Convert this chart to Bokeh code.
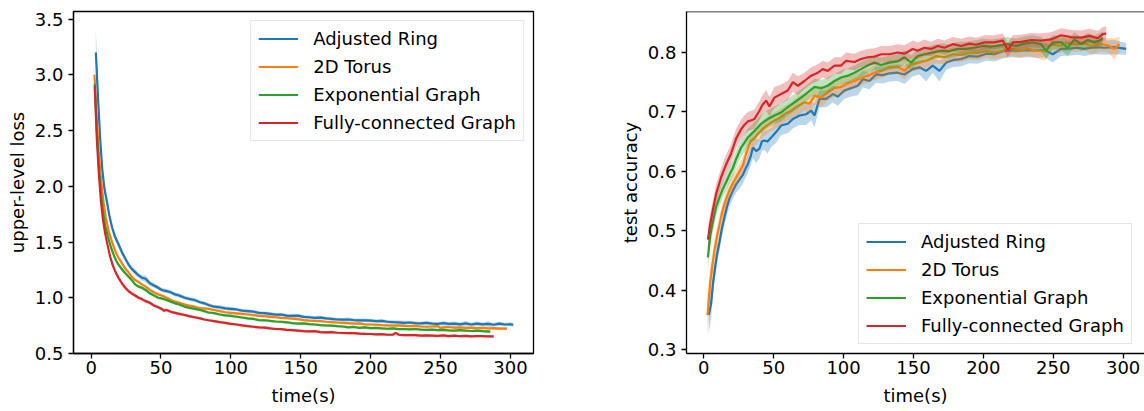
import numpy as np
from bokeh.plotting import figure
from bokeh.layouts import row
from bokeh.models import FixedTicker, Span, Range1d, PrintfTickFormatter
from bokeh.embed import file_html
from bokeh.resources import INLINE

names = ["Adjusted Ring", "2D Torus", "Exponential Graph", "Fully-connected Graph"]
colors = ["#1f77b4", "#ff7f0e", "#2ca02c", "#d62728"]
x_ticks = [0, 50, 100, 150, 200, 250, 300]
loss_ticks = [0.5, 1.0, 1.5, 2.0, 2.5, 3.0, 3.5]
acc_ticks = [0.3, 0.4, 0.5, 0.6, 0.7, 0.8]

# ---------------- upper-level loss ----------------
loss_t_ring = [3.4, 5, 6.5, 8, 9.5, 11.2, 13, 15, 17, 19.6,
               22, 24.5, 26.7, 29, 31.5, 34, 36.3, 39, 42, 45,
               48, 50.6, 54, 57, 60, 63, 67, 70, 74, 78,
               81, 84, 88, 92, 96, 100, 104, 108, 112, 116,
               120, 124, 128, 132, 136, 140, 144, 148, 152, 156,
               160, 164, 168, 172, 176, 180, 184, 188, 192, 196,
               200, 204, 208, 212, 216, 220, 224, 228, 232, 236,
               240, 244, 248, 252, 256, 260, 264, 268, 272, 276,
               280, 284, 288, 292, 296, 300, 302]
loss_ring = [3.20, 2.78, 2.42, 2.15, 1.98, 1.87, 1.74, 1.63, 1.55, 1.48,
             1.41, 1.35, 1.30, 1.26, 1.23, 1.20, 1.18, 1.17, 1.13, 1.11,
             1.09, 1.07, 1.06, 1.05, 1.03, 1.02, 1.00, 0.99, 0.98, 0.96,
             0.95, 0.935, 0.92, 0.915, 0.905, 0.90, 0.895, 0.885, 0.88, 0.875,
             0.865, 0.862, 0.855, 0.848, 0.85, 0.84, 0.838, 0.84, 0.828, 0.825,
             0.82, 0.822, 0.815, 0.81, 0.805, 0.803, 0.805, 0.80, 0.797, 0.798,
             0.795, 0.79, 0.792, 0.785, 0.782, 0.78, 0.775, 0.778, 0.772, 0.77,
             0.775, 0.768, 0.765, 0.772, 0.765, 0.768, 0.762, 0.77, 0.76, 0.768,
             0.762, 0.765, 0.758, 0.768, 0.76, 0.762, 0.758]
loss_band_ring = [0.20, 0.12, 0.08, 0.06, 0.05, 0.04, 0.035, 0.03, 0.03, 0.03,
                  0.028, 0.025, 0.025, 0.025, 0.025, 0.022, 0.025, 0.03, 0.022, 0.02,
                  0.02, 0.018, 0.02, 0.018, 0.018, 0.02, 0.018, 0.016, 0.018, 0.016,
                  0.016, 0.018, 0.016, 0.02, 0.016, 0.018, 0.016, 0.015, 0.018, 0.015,
                  0.016, 0.015, 0.018, 0.015, 0.016, 0.015, 0.018, 0.016, 0.015, 0.016,
                  0.015, 0.018, 0.015, 0.016, 0.015, 0.016, 0.018, 0.015, 0.016, 0.015,
                  0.016, 0.015, 0.018, 0.015, 0.016, 0.015, 0.018, 0.015, 0.016, 0.015,
                  0.018, 0.016, 0.015, 0.02, 0.016, 0.018, 0.015, 0.022, 0.016, 0.02,
                  0.016, 0.025, 0.016, 0.02, 0.016, 0.018, 0.016]

loss_t_torus = [2.4, 4, 5.5, 7, 8.8, 10.5, 12.5, 15, 17.2, 19.5,
                22, 24.5, 26.7, 29, 31.5, 34, 36.3, 39, 42, 45,
                48, 50.6, 54, 57, 60, 63, 67, 70, 74, 78,
                81, 84, 88, 92, 96, 100, 104, 108, 112, 116,
                120, 124, 128, 132, 136, 140, 144, 148, 152, 156,
                160, 164, 168, 172, 176, 180, 184, 188, 192, 196,
                200, 204, 208, 212, 216, 220, 224, 228, 232, 236,
                240, 244, 248, 250, 252, 256, 260, 264, 268, 272,
                276, 280, 284, 288, 292, 297.5]
loss_torus = [3.00, 2.62, 2.30, 2.07, 1.87, 1.72, 1.60, 1.50, 1.42, 1.36,
              1.31, 1.26, 1.23, 1.19, 1.16, 1.14, 1.12, 1.10, 1.07, 1.05,
              1.03, 1.02, 1.00, 0.98, 0.965, 0.955, 0.94, 0.93, 0.92, 0.905,
              0.905, 0.90, 0.89, 0.88, 0.87, 0.865, 0.86, 0.855, 0.85, 0.845,
              0.838, 0.835, 0.828, 0.825, 0.82, 0.818, 0.812, 0.808, 0.80, 0.795,
              0.792, 0.79, 0.785, 0.782, 0.778, 0.775, 0.772, 0.768, 0.77, 0.762,
              0.76, 0.758, 0.755, 0.753, 0.75, 0.752, 0.748, 0.745, 0.747, 0.742,
              0.74, 0.742, 0.745, 0.728, 0.735, 0.738, 0.732, 0.735, 0.73, 0.732,
              0.728, 0.73, 0.726, 0.728, 0.724, 0.724]
loss_band_torus = [0.10, 0.07, 0.05, 0.04, 0.035, 0.03, 0.028, 0.025, 0.022, 0.02,
                   0.02, 0.018, 0.018, 0.016, 0.016, 0.015, 0.015, 0.015, 0.014, 0.014,
                   0.014, 0.014, 0.013, 0.013, 0.013, 0.013, 0.012, 0.012, 0.012, 0.012,
                   0.012, 0.012, 0.012, 0.012, 0.012, 0.012, 0.012, 0.012, 0.012, 0.012,
                   0.012, 0.012, 0.012, 0.012, 0.012, 0.012, 0.012, 0.012, 0.012, 0.012,
                   0.012, 0.012, 0.012, 0.012, 0.012, 0.012, 0.012, 0.012, 0.012, 0.012,
                   0.012, 0.012, 0.012, 0.012, 0.012, 0.012, 0.012, 0.012, 0.012, 0.012,
                   0.012, 0.012, 0.014, 0.014, 0.012, 0.012, 0.012, 0.012, 0.012, 0.012,
                   0.012, 0.012, 0.012, 0.012, 0.014, 0.014]

loss_t_exp = [2.6, 4, 5.5, 7, 8.5, 10, 12, 14, 16, 18,
              20, 23, 26.7, 29, 31.5, 34, 36.3, 39, 42, 45,
              48, 50.6, 54, 57, 60, 63, 67, 70, 74, 78,
              81, 84, 88, 92, 96, 100, 104, 108, 112, 116,
              120, 124, 128, 132, 136, 140, 144, 148, 152, 156,
              160, 164, 168, 172, 176, 180, 184, 188, 192, 196,
              200, 204, 208, 212, 216, 220, 224, 228, 232, 236,
              240, 244, 248, 252, 256, 260, 264, 268, 272, 276,
              280, 285.6]
loss_exp = [2.92, 2.52, 2.18, 1.95, 1.78, 1.65, 1.55, 1.46, 1.39, 1.33,
            1.29, 1.24, 1.19, 1.16, 1.12, 1.10, 1.09, 1.07, 1.04, 1.02,
            1.00, 0.994, 0.98, 0.965, 0.95, 0.94, 0.92, 0.91, 0.90, 0.89,
            0.88, 0.868, 0.862, 0.85, 0.842, 0.838, 0.83, 0.823, 0.815, 0.81,
            0.80, 0.798, 0.792, 0.787, 0.785, 0.78, 0.772, 0.768, 0.77, 0.764,
            0.76, 0.755, 0.752, 0.75, 0.745, 0.742, 0.735, 0.738, 0.73, 0.735,
            0.728, 0.73, 0.725, 0.722, 0.725, 0.718, 0.72, 0.717, 0.72, 0.715,
            0.712, 0.715, 0.71, 0.712, 0.708, 0.705, 0.71, 0.705, 0.702, 0.706,
            0.70, 0.697]
loss_band_exp = [0.08, 0.06, 0.045, 0.035, 0.03, 0.028, 0.025, 0.022, 0.02, 0.02,
                 0.018, 0.018, 0.016, 0.016, 0.016, 0.015, 0.015, 0.015, 0.014, 0.014,
                 0.014, 0.013, 0.013, 0.013, 0.012, 0.012, 0.012, 0.012, 0.012, 0.012,
                 0.012, 0.012, 0.012, 0.012, 0.012, 0.012, 0.012, 0.012, 0.012, 0.012,
                 0.012, 0.012, 0.012, 0.012, 0.012, 0.012, 0.012, 0.012, 0.012, 0.012,
                 0.012, 0.012, 0.012, 0.012, 0.012, 0.012, 0.012, 0.012, 0.012, 0.012,
                 0.012, 0.012, 0.012, 0.012, 0.012, 0.012, 0.012, 0.012, 0.012, 0.012,
                 0.012, 0.012, 0.012, 0.012, 0.012, 0.012, 0.012, 0.012, 0.012, 0.012,
                 0.012, 0.012]

loss_t_full = [2.6, 4, 5.5, 7, 8.5, 10, 11.8, 13.6, 15.5, 17.5,
               19.6, 22, 24.5, 26.7, 29, 31.5, 34, 36.3, 39, 42,
               45, 48, 50.6, 52, 54, 57, 60, 63, 67, 70,
               74, 78, 81, 84, 88, 92, 96, 100, 104, 108,
               112, 116, 120, 124, 128, 132, 136, 140, 144, 148,
               152, 156, 160, 164, 168, 172, 176, 180, 184, 188,
               192, 196, 200, 204, 208, 212, 216, 218, 220, 224,
               228, 232, 236, 240, 244, 248, 252, 256, 260, 264,
               268, 272, 276, 280, 284, 288]
loss_full = [2.90, 2.45, 2.12, 1.87, 1.70, 1.58, 1.47, 1.37, 1.29, 1.23,
             1.18, 1.13, 1.09, 1.06, 1.04, 1.02, 1.00, 0.988, 0.97, 0.955,
             0.93, 0.915, 0.90, 0.885, 0.89, 0.875, 0.865, 0.855, 0.845, 0.835,
             0.825, 0.815, 0.805, 0.798, 0.79, 0.782, 0.775, 0.765, 0.76, 0.752,
             0.745, 0.74, 0.735, 0.732, 0.725, 0.72, 0.718, 0.712, 0.71, 0.705,
             0.70, 0.698, 0.70, 0.692, 0.69, 0.692, 0.686, 0.684, 0.683, 0.682,
             0.678, 0.676, 0.675, 0.672, 0.673, 0.668, 0.67, 0.685, 0.668, 0.665,
             0.664, 0.665, 0.66, 0.662, 0.66, 0.658, 0.662, 0.656, 0.66, 0.655,
             0.658, 0.654, 0.657, 0.655, 0.653, 0.653]
loss_band_full = [0.06, 0.05, 0.04, 0.035, 0.03, 0.028, 0.025, 0.022, 0.02, 0.02,
                  0.02, 0.018, 0.018, 0.018, 0.018, 0.016, 0.016, 0.016, 0.016, 0.015,
                  0.015, 0.015, 0.015, 0.018, 0.015, 0.014, 0.014, 0.014, 0.014, 0.014,
                  0.012, 0.012, 0.012, 0.012, 0.012, 0.012, 0.012, 0.012, 0.012, 0.012,
                  0.012, 0.012, 0.012, 0.012, 0.012, 0.012, 0.012, 0.012, 0.012, 0.012,
                  0.012, 0.012, 0.012, 0.012, 0.012, 0.012, 0.012, 0.012, 0.012, 0.012,
                  0.012, 0.012, 0.012, 0.012, 0.012, 0.012, 0.012, 0.012, 0.012, 0.012,
                  0.012, 0.012, 0.012, 0.012, 0.012, 0.012, 0.012, 0.012, 0.012, 0.012,
                  0.012, 0.012, 0.012, 0.012, 0.012, 0.012]

# ---------------- test accuracy ----------------
acc_t_ring = [3.5, 5.2, 6.5, 7.6, 9.4, 11.2, 13, 14.8, 16.5, 18.3,
              20.7, 23.1, 25.5, 27.9, 30, 31.5, 33.5, 35.1, 37.5, 39.8,
              41.5, 43.4, 45.5, 48.2, 51.7, 55.3, 60.1, 63.7, 68.5, 73.2,
              76.8, 79.2, 82.8, 87.5, 92.3, 95.9, 100.6, 105.4, 110.2, 113.8,
              118.5, 123.3, 128.1, 132.8, 138.8, 143.5, 149.5, 154.3, 159, 163.8,
              168.6, 173.4, 178.1, 184.1, 190, 196, 202, 207.9, 213.9, 219.9,
              225.8, 231.8, 237.8, 243.7, 249.7, 255.6, 262.8, 267.6, 272.4, 279.5,
              286.7, 293.8, 302.2]
acc_ring = [0.358, 0.377, 0.41, 0.43, 0.46, 0.481, 0.505, 0.523, 0.54, 0.554,
            0.567, 0.578, 0.586, 0.594, 0.605, 0.612, 0.625, 0.64, 0.634, 0.638,
            0.65, 0.652, 0.650, 0.657, 0.666, 0.677, 0.680, 0.688, 0.694, 0.696,
            0.702, 0.694, 0.722, 0.722, 0.730, 0.726, 0.736, 0.740, 0.744, 0.755,
            0.752, 0.763, 0.762, 0.765, 0.766, 0.763, 0.772, 0.775, 0.769, 0.778,
            0.769, 0.783, 0.787, 0.789, 0.794, 0.793, 0.798, 0.797, 0.802, 0.804,
            0.803, 0.804, 0.803, 0.804, 0.797, 0.806, 0.807, 0.808, 0.806, 0.809,
            0.808, 0.809, 0.806]
acc_band_ring = [0.03, 0.025, 0.02, 0.018, 0.016, 0.015, 0.014, 0.014, 0.014, 0.014,
                 0.014, 0.014, 0.015, 0.015, 0.015, 0.015, 0.016, 0.018, 0.02, 0.016,
                 0.016, 0.016, 0.02, 0.016, 0.018, 0.016, 0.016, 0.016, 0.016, 0.018,
                 0.016, 0.02, 0.014, 0.014, 0.014, 0.016, 0.014, 0.014, 0.016, 0.014,
                 0.014, 0.014, 0.014, 0.014, 0.014, 0.016, 0.012, 0.012, 0.018, 0.012,
                 0.018, 0.012, 0.012, 0.012, 0.012, 0.012, 0.012, 0.012, 0.012, 0.012,
                 0.012, 0.012, 0.012, 0.012, 0.014, 0.012, 0.012, 0.012, 0.012, 0.012,
                 0.012, 0.012, 0.01]

acc_t_torus = [2.6, 4.5, 6, 7.6, 9.4, 11.2, 13, 14.8, 16.5, 18.3,
               20.7, 23.1, 25.5, 27.9, 30.3, 33.8, 36, 38.6, 43.4, 48.2,
               52.9, 57.7, 62.5, 67.3, 72, 75.6, 79.2, 84, 88.7, 93.5,
               98.2, 103, 107.8, 112.5, 117.3, 122.1, 126.9, 132.8, 138.8, 143.5,
               148.3, 154.3, 160.2, 166.2, 172.2, 178.1, 184.1, 190, 196, 202,
               207.9, 213.9, 219.9, 225.8, 231.8, 237.8, 243.7, 248.5, 254.5, 260.4,
               266.4, 272.4, 278.3, 284.3, 289.1, 293.8, 297.4]
acc_torus = [0.358, 0.411, 0.44, 0.466, 0.49, 0.51, 0.53, 0.545, 0.557, 0.568,
             0.58, 0.59, 0.60, 0.61, 0.63, 0.652, 0.655, 0.663, 0.674, 0.682,
             0.688, 0.696, 0.702, 0.710, 0.716, 0.714, 0.727, 0.724, 0.733, 0.740,
             0.742, 0.748, 0.752, 0.757, 0.761, 0.766, 0.769, 0.775, 0.776, 0.769,
             0.780, 0.783, 0.787, 0.794, 0.792, 0.797, 0.796, 0.800, 0.799, 0.803,
             0.800, 0.803, 0.806, 0.803, 0.806, 0.803, 0.802, 0.814, 0.811, 0.815,
             0.813, 0.815, 0.811, 0.814, 0.812, 0.806, 0.814]
acc_band_torus = [0.035, 0.025, 0.02, 0.018, 0.016, 0.015, 0.014, 0.014, 0.014, 0.014,
                  0.014, 0.014, 0.014, 0.014, 0.014, 0.014, 0.014, 0.014, 0.014, 0.014,
                  0.014, 0.014, 0.014, 0.016, 0.014, 0.016, 0.014, 0.016, 0.014, 0.014,
                  0.014, 0.012, 0.012, 0.012, 0.012, 0.012, 0.012, 0.012, 0.012, 0.014,
                  0.012, 0.012, 0.012, 0.012, 0.012, 0.012, 0.012, 0.012, 0.012, 0.012,
                  0.012, 0.012, 0.012, 0.012, 0.012, 0.012, 0.016, 0.012, 0.012, 0.012,
                  0.012, 0.012, 0.014, 0.012, 0.012, 0.018, 0.012]

acc_t_exp = [2.9, 4.5, 6.4, 8.8, 11.2, 13.5, 16, 18.5, 20.7, 23,
             26.7, 29, 31.5, 36.2, 41, 45.8, 50.5, 55.3, 60.1, 64.9,
             69.6, 74.4, 79.2, 84, 88.7, 93.5, 98.2, 103, 107.8, 112.5,
             117.3, 122.1, 126.9, 132.8, 138.8, 143.5, 148.3, 153.1, 157.8, 163.8,
             169.8, 175.7, 181.7, 187.7, 193.6, 199.6, 205.6, 211.5, 217.5, 223.5,
             229.4, 235.4, 241.3, 244.9, 249.7, 255.6, 260.4, 265.2, 270, 274.7,
             279.5, 283.1, 285.5]
acc_exp = [0.455, 0.49, 0.514, 0.54, 0.556, 0.57, 0.582, 0.595, 0.605, 0.62,
           0.640, 0.648, 0.657, 0.668, 0.680, 0.688, 0.694, 0.699, 0.708, 0.716,
           0.724, 0.733, 0.742, 0.740, 0.744, 0.752, 0.758, 0.761, 0.766, 0.772,
           0.778, 0.783, 0.779, 0.783, 0.785, 0.792, 0.783, 0.794, 0.797, 0.800,
           0.803, 0.802, 0.806, 0.806, 0.808, 0.811, 0.810, 0.812, 0.814, 0.811,
           0.815, 0.817, 0.814, 0.803, 0.817, 0.817, 0.808, 0.822, 0.814, 0.821,
           0.817, 0.820, 0.824]
acc_band_exp = [0.02, 0.018, 0.016, 0.015, 0.014, 0.014, 0.014, 0.014, 0.014, 0.014,
                0.015, 0.015, 0.015, 0.015, 0.015, 0.015, 0.015, 0.015, 0.014, 0.014,
                0.014, 0.014, 0.014, 0.014, 0.014, 0.012, 0.012, 0.012, 0.012, 0.012,
                0.012, 0.012, 0.012, 0.012, 0.012, 0.012, 0.012, 0.012, 0.012, 0.012,
                0.012, 0.012, 0.012, 0.012, 0.012, 0.012, 0.012, 0.012, 0.012, 0.012,
                0.012, 0.012, 0.012, 0.014, 0.012, 0.012, 0.014, 0.012, 0.012, 0.012,
                0.012, 0.012, 0.012]

acc_t_full = [2.9, 4.5, 6.4, 8.8, 10.5, 12.4, 14, 16, 19.5, 23.1,
              26.7, 29, 31.5, 34, 36.2, 39.8, 42, 44.6, 47, 50.5,
              55.3, 60.1, 63.7, 67.3, 72, 76.8, 81.6, 85.1, 88.7, 93.5,
              98.2, 101.8, 107.8, 112.5, 117.3, 122.1, 126.9, 132.8, 138.8, 143.5,
              149.5, 153.1, 157.8, 162.6, 167.4, 172.2, 178.1, 184.1, 190, 194.8,
              200.8, 207.9, 213.9, 217.5, 221.1, 227, 234.2, 241.3, 248.5, 255.6,
              262.8, 270, 275.9, 281.9, 285.5, 287.9]
acc_full = [0.485, 0.51, 0.534, 0.562, 0.575, 0.590, 0.60, 0.612, 0.630, 0.655,
            0.671, 0.678, 0.684, 0.686, 0.688, 0.702, 0.712, 0.719, 0.709, 0.724,
            0.730, 0.736, 0.750, 0.744, 0.752, 0.761, 0.766, 0.772, 0.769, 0.778,
            0.778, 0.786, 0.784, 0.789, 0.792, 0.793, 0.797, 0.797, 0.800, 0.798,
            0.806, 0.803, 0.808, 0.806, 0.811, 0.808, 0.814, 0.811, 0.815, 0.813,
            0.817, 0.817, 0.820, 0.804, 0.817, 0.818, 0.821, 0.820, 0.822, 0.829,
            0.826, 0.825, 0.828, 0.824, 0.831, 0.832]
acc_band_full = [0.02, 0.018, 0.016, 0.016, 0.016, 0.016, 0.016, 0.016, 0.016, 0.016,
                 0.016, 0.016, 0.016, 0.016, 0.016, 0.016, 0.016, 0.018, 0.016, 0.018,
                 0.016, 0.016, 0.016, 0.016, 0.014, 0.014, 0.014, 0.014, 0.014, 0.014,
                 0.014, 0.014, 0.014, 0.014, 0.014, 0.014, 0.014, 0.014, 0.014, 0.014,
                 0.014, 0.014, 0.014, 0.012, 0.012, 0.012, 0.012, 0.012, 0.012, 0.012,
                 0.012, 0.012, 0.012, 0.012, 0.012, 0.012, 0.012, 0.012, 0.012, 0.012,
                 0.012, 0.012, 0.012, 0.012, 0.012, 0.012]

loss_series = [(loss_t_ring, loss_ring, loss_band_ring),
               (loss_t_torus, loss_torus, loss_band_torus),
               (loss_t_exp, loss_exp, loss_band_exp),
               (loss_t_full, loss_full, loss_band_full)]
acc_series = [(acc_t_ring, acc_ring, acc_band_ring),
              (acc_t_torus, acc_torus, acc_band_torus),
              (acc_t_exp, acc_exp, acc_band_exp),
              (acc_t_full, acc_full, acc_band_full)]

FONT = "DejaVu Sans"
FS = "18px"


def style(p, yticks):
    p.xgrid.visible = False
    p.ygrid.visible = False
    p.background_fill_color = "white"
    p.border_fill_color = "white"
    p.xaxis.ticker = FixedTicker(ticks=x_ticks)
    p.yaxis.ticker = FixedTicker(ticks=yticks)
    p.yaxis.formatter = PrintfTickFormatter(format="%.1f")
    for ax in p.xaxis + p.yaxis:
        ax.major_label_text_font = FONT
        ax.major_label_text_font_size = FS
        ax.major_label_text_color = "black"
        ax.axis_label_text_font = FONT
        ax.axis_label_text_font_size = FS
        ax.axis_label_text_font_style = "normal"
        ax.axis_label_text_color = "black"
        ax.major_tick_out = 5
        ax.major_tick_in = 0
        ax.minor_tick_out = 0
        ax.minor_tick_in = 0
        ax.axis_line_color = "black"
        ax.axis_line_width = 1.3
        ax.major_tick_line_color = "black"
        ax.major_tick_line_width = 1.3
    p.xaxis.major_label_standoff = 2
    p.xaxis.axis_label_standoff = 8
    p.yaxis.major_label_standoff = 5
    p.yaxis.axis_label_standoff = 4
    p.xaxis.axis_label = "time(s)"


def draw(p, series):
    for (t, v, b), name, c in zip(series, names, colors):
        t = np.asarray(t, dtype=float)
        v = np.asarray(v, dtype=float)
        b = np.asarray(b, dtype=float)
        p.varea(x=t, y1=v - b, y2=v + b, fill_color=c, fill_alpha=0.3)
        p.line(t, v, line_color=c, line_width=2.2, legend_label=name)


def style_legend(p):
    lg = p.legend[0]
    lg.label_text_font = FONT
    lg.label_text_font_size = FS
    lg.label_text_color = "black"
    lg.glyph_width = 40
    lg.glyph_height = 21
    lg.label_height = 21
    lg.label_standoff = 15
    lg.spacing = 7
    lg.padding = 7
    lg.margin = 9
    lg.border_line_color = "#cccccc"
    lg.border_line_width = 1
    lg.background_fill_alpha = 0.8


# left figure: frame x 73..533, y 11..353
p1 = figure(width=600, height=411, output_backend="svg", toolbar_location=None,
            x_range=Range1d(-12.6, 316.5), y_range=Range1d(0.5, 3.568),
            min_border_left=73, min_border_right=67, min_border_top=11, min_border_bottom=58)
style(p1, loss_ticks)
p1.yaxis.axis_label = "upper-level loss"
p1.outline_line_color = "black"
p1.outline_line_width = 1.3
p1.outline_line_alpha = 1
draw(p1, loss_series)
style_legend(p1)
p1.legend.location = "top_right"

# right figure: frame x 686..1144 (right spine cut off), y 11..353
p2 = figure(width=544, height=411, output_backend="svg", toolbar_location=None,
            x_range=Range1d(-12.4, 315.3), y_range=Range1d(0.2933, 0.869),
            min_border_left=86, min_border_right=0, min_border_top=11, min_border_bottom=58)
style(p2, acc_ticks)
p2.yaxis.axis_label = "test accuracy"
p2.outline_line_color = None
draw(p2, acc_series)
p2.add_layout(Span(location=0.869, dimension="width", line_color="black", line_width=1.3))
style_legend(p2)
p2.legend.location = (172, 9)

layout = row(p1, p2)
open("out.html", "w").write(file_html(layout, INLINE))
